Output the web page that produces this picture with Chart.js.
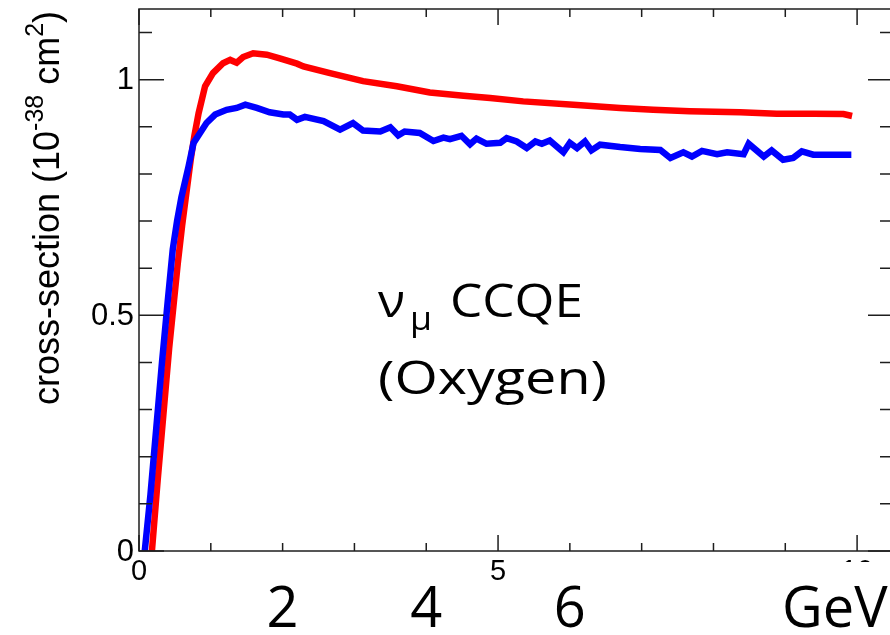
<!DOCTYPE html>
<html>
<head>
<meta charset="utf-8">
<script src="https://cdn.jsdelivr.net/npm/chart.js@4.4.1/dist/chart.umd.min.js"></script>
<style>
  html, body { margin: 0; padding: 0; background: #fff; overflow: hidden; }
  #wrap { width: 900px; height: 635px; }
</style>
</head>
<body>
<div id="wrap"><canvas id="xsec-chart" width="900" height="635"></canvas></div>
<script>
// values (E in GeV, cross-section in 1e-38 cm2)
const redEnergy = [0.18, 0.26, 0.34, 0.42, 0.48, 0.54, 0.6, 0.66, 0.72, 0.77, 0.83, 0.92, 1.03, 1.17, 1.27, 1.36, 1.45, 1.59, 1.78, 1.96, 2.2, 2.29, 2.66, 3.12, 3.59, 4.05, 4.52, 4.89, 5.35, 6.05, 6.7, 7.16, 7.67, 8.37, 8.88, 9.39, 9.81, 9.93];
const redXsec = [0, 0.15, 0.29, 0.43, 0.52, 0.61, 0.69, 0.76, 0.83, 0.88, 0.929, 0.986, 1.014, 1.035, 1.042, 1.036, 1.048, 1.056, 1.053, 1.045, 1.034, 1.028, 1.014, 0.997, 0.986, 0.973, 0.966, 0.961, 0.954, 0.947, 0.94, 0.936, 0.933, 0.931, 0.928, 0.928, 0.927, 0.923];

const blueEnergy = [0.08, 0.16, 0.24, 0.32, 0.4, 0.47, 0.53, 0.59, 0.69, 0.76, 0.85, 0.94, 1.06, 1.22, 1.36, 1.48, 1.64, 1.82, 2.01, 2.1, 2.2, 2.31, 2.57, 2.8, 2.98, 3.12, 3.36, 3.5, 3.61, 3.7, 3.91, 4.1, 4.24, 4.33, 4.49, 4.61, 4.7, 4.84, 5.03, 5.12, 5.26, 5.4, 5.52, 5.61, 5.72, 5.91, 6.0, 6.1, 6.21, 6.3, 6.42, 6.7, 6.98, 7.26, 7.4, 7.58, 7.7, 7.84, 8.05, 8.19, 8.42, 8.49, 8.7, 8.81, 8.97, 9.11, 9.23, 9.39, 9.92];
const blueXsec = [0, 0.12, 0.26, 0.4, 0.53, 0.64, 0.7, 0.75, 0.816, 0.866, 0.887, 0.908, 0.926, 0.936, 0.94, 0.947, 0.94, 0.931, 0.926, 0.926, 0.915, 0.921, 0.912, 0.894, 0.908, 0.892, 0.89, 0.899, 0.882, 0.89, 0.887, 0.87, 0.877, 0.874, 0.881, 0.863, 0.875, 0.864, 0.866, 0.876, 0.869, 0.855, 0.869, 0.864, 0.871, 0.846, 0.866, 0.855, 0.869, 0.85, 0.862, 0.857, 0.853, 0.851, 0.834, 0.846, 0.837, 0.849, 0.842, 0.846, 0.842, 0.864, 0.837, 0.85, 0.83, 0.834, 0.848, 0.841, 0.841];

const yTickLabels = [0, 0.5, 1];
const xTickLabels = [0, 5, 10];
const gevLabels = [2, 4, 6];

const toPoints = (xs, ys) => xs.map((x, i) => ({ x: x, y: ys[i] }));

// ROOT-style frame, inward ticks and the pasted-on text
const frameAndLabels = {
  id: "frameAndLabels",
  afterDraw(chart) {
    const { ctx, chartArea, scales } = chart;
    const { left, right, top, bottom } = chartArea;
    const xs = scales.x;
    const ys = scales.y;

    ctx.save();
    ctx.strokeStyle = "#1e1e1e";
    ctx.lineWidth = 1.5;
    ctx.strokeRect(left, top, right - left, bottom - top);

    ctx.beginPath();
    for (let i = 0; i <= 11; i++) {
      const py = ys.getPixelForValue(i / 10);
      const len = i % 5 === 0 ? 25 : 13;
      ctx.moveTo(left, py);
      ctx.lineTo(left + len, py);
      ctx.moveTo(right, py);
      ctx.lineTo(right - len, py);
    }
    for (let i = 0; i <= 10; i++) {
      const px = xs.getPixelForValue(i);
      const len = i % 5 === 0 ? 16 : 8;
      ctx.moveTo(px, bottom);
      ctx.lineTo(px, bottom - len);
      ctx.moveTo(px, top);
      ctx.lineTo(px, top + len);
    }
    ctx.stroke();

    // tick labels
    ctx.fillStyle = "#000";
    ctx.font = "31px 'Liberation Sans', Arial, sans-serif";
    ctx.textAlign = "right";
    ctx.textBaseline = "middle";
    yTickLabels.forEach((v) => {
      ctx.fillText(String(v), left - 5, ys.getPixelForValue(v) + 1);
    });
    ctx.font = "29px 'Liberation Sans', Arial, sans-serif";
    ctx.textAlign = "center";
    xTickLabels.forEach((v) => {
      ctx.fillText(String(v), xs.getPixelForValue(v), bottom + 21);
    });

    // white text box laid over the lower right part
    ctx.fillStyle = "#fff";
    ctx.fillRect(700, bottom + 11, 200, 100);

    // y-axis title, rotated
    ctx.save();
    ctx.translate(59, 405);
    ctx.rotate(-Math.PI / 2);
    ctx.fillStyle = "#000";
    ctx.textAlign = "left";
    ctx.textBaseline = "alphabetic";
    const big = "36px 'Liberation Sans', Arial, sans-serif";
    const small = "25px 'Liberation Sans', Arial, sans-serif";
    let tx = 0;
    const piece = (text, font, dy) => {
      ctx.font = font;
      ctx.fillText(text, tx, dy);
      tx += ctx.measureText(text).width;
    };
    piece("cross-section (10", big, 0);
    piece("-38", small, -16);
    piece(" cm", big, 0);
    piece("2", small, -16);
    piece(")", big, 0);
    ctx.restore();

    // stretched text helper
    const fitText = (text, x, y, font, width) => {
      ctx.save();
      ctx.font = font;
      const w = ctx.measureText(text).width;
      ctx.translate(x, y);
      ctx.scale(width / w, 1);
      ctx.textAlign = "left";
      ctx.fillText(text, 0, 0);
      ctx.restore();
    };

    ctx.fillStyle = "#000";
    ctx.textBaseline = "alphabetic";
    const label = "46px 'Open Sans', sans-serif";
    fitText("\u03bd", 378, 317, label, 27);
    fitText("\u03bc", 410, 330, "32px 'Open Sans', sans-serif", 22);
    fitText("CCQE", 450, 317, label, 133);
    fitText("(Oxygen)", 378, 394, label, 229);

    // GeV scale pasted under the axis
    ctx.font = "56px 'Open Sans', sans-serif";
    ctx.textAlign = "center";
    gevLabels.forEach((v) => {
      ctx.fillText(String(v), xs.getPixelForValue(v), 627);
    });
    ctx.textAlign = "left";
    ctx.fillText("GeV", 782, 627);

    ctx.restore();
  },
};

const xsecCtx = document.getElementById("xsec-chart").getContext("2d");

const xsecChart = new Chart(xsecCtx, {
  type: "line",
  plugins: [frameAndLabels],
  data: {
    datasets: [
      {
        label: "blue",
        data: toPoints(blueEnergy, blueXsec),
        borderColor: "#0000ff",
        borderWidth: 6.5,
        pointRadius: 0,
        tension: 0,
        fill: false,
      },
      {
        label: "red",
        data: toPoints(redEnergy, redXsec),
        borderColor: "#ff0000",
        borderWidth: 6.5,
        pointRadius: 0,
        tension: 0,
        fill: false,
      },
    ],
  },
  options: {
    responsive: false,
    animation: false,
    devicePixelRatio: 1,
    layout: {
      padding: { left: 139, top: 9, right: 7, bottom: 84 },
    },
    plugins: {
      legend: { display: false },
      tooltip: { enabled: false },
    },
    scales: {
      x: {
        type: "linear",
        min: 0,
        max: 10.5,
        display: false,
      },
      y: {
        min: 0,
        max: 1.15,
        display: false,
      },
    },
  },
});
</script>
</body>
</html>
